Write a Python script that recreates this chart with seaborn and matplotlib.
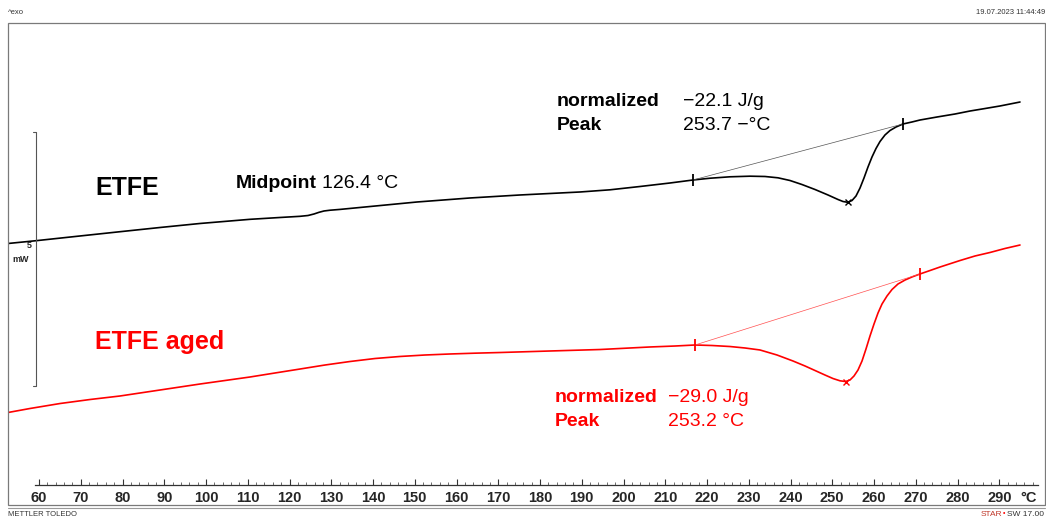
import matplotlib
matplotlib.use("Agg")
import matplotlib.pyplot as plt
from matplotlib.lines import Line2D
from matplotlib.patches import Rectangle
from matplotlib.ticker import FixedLocator
import pandas as pd
import seaborn as sns

# DSC heating curves, heat flow in mW (exo up), temperature in °C
etfe_temp = [52.57, 59.28, 69.82, 79.40, 88.98, 98.56, 110.54, 117.72, 122.51,
             124.43, 125.87, 127.07, 128.26, 129.70, 132.10, 139.28, 150.54,
             163.23, 175.21, 189.58, 196.77, 203.95, 211.14, 216.65, 220.72,
             225.51, 230.30, 233.89, 237.01, 239.88, 242.75, 245.87, 248.98,
             251.38, 252.57, 253.70, 254.73, 255.69, 256.65, 257.60, 258.56,
             259.52, 260.48, 261.44, 262.63, 263.83, 265.27, 266.92, 269.10,
             271.02, 275.09, 279.40, 283.00, 286.59, 290.18, 294.97]
etfe_flow = [4.065, 4.120, 4.213, 4.297, 4.380, 4.459, 4.541, 4.577, 4.600,
             4.616, 4.646, 4.679, 4.705, 4.720, 4.736, 4.793, 4.882,
             4.961, 5.020, 5.079, 5.122, 5.187, 5.256, 5.315, 5.350,
             5.378, 5.390, 5.384, 5.358, 5.305, 5.226, 5.128, 5.020,
             4.931, 4.892, 4.876, 4.911, 5.000, 5.157, 5.354, 5.571,
             5.768, 5.935, 6.073, 6.201, 6.289, 6.358, 6.417, 6.457,
             6.496, 6.555, 6.614, 6.673, 6.722, 6.772, 6.850]

aged_temp = [52.57, 57.84, 65.03, 72.22, 79.40, 88.98, 98.56, 104.55, 110.54,
             116.53, 122.51, 128.50, 134.49, 140.48, 146.47, 152.46, 158.44,
             164.43, 170.42, 182.40, 194.37, 206.35, 212.34, 217.13, 221.20,
             225.51, 229.10, 232.69, 236.77, 240.60, 243.47, 245.87, 248.26,
             250.18, 251.86, 253.20, 254.25, 255.21, 256.17, 257.13, 258.08,
             259.04, 260.00, 260.96, 261.92, 263.11, 264.31, 265.75, 267.43,
             269.10, 271.02, 273.41, 275.81, 280.60, 284.19, 287.78, 291.38,
             294.97]
aged_flow = [0.738, 0.817, 0.915, 0.994, 1.063, 1.181, 1.299, 1.368, 1.437,
             1.516, 1.594, 1.673, 1.742, 1.801, 1.841, 1.870, 1.890,
             1.906, 1.919, 1.949, 1.978, 2.028, 2.047, 2.067, 2.057,
             2.037, 2.008, 1.969, 1.870, 1.752, 1.654, 1.565, 1.476,
             1.407, 1.362, 1.348, 1.378, 1.457, 1.575, 1.752, 1.988,
             2.244, 2.480, 2.697, 2.874, 3.031, 3.159, 3.268, 3.346,
             3.406, 3.465, 3.533, 3.602, 3.730, 3.819, 3.888, 3.967,
             4.035]

# Integration limits of the melting peaks (temperature, heat flow)
etfe_limits_temp = [216.65, 266.92]
etfe_limits_flow = [5.315, 6.417]
aged_limits_temp = [217.13, 271.02]
aged_limits_flow = [2.067, 3.465]

# Evaluation results
etfe_peak_temp = 253.7
etfe_peak_flow = 4.876
aged_peak_temp = 253.2
aged_peak_flow = 1.348
etfe_enthalpy = "\u221222.1 J/g"
etfe_peak_text = "253.7 \u2212\u00b0C"
aged_enthalpy = "\u221229.0 J/g"
aged_peak_text = "253.2 \u00b0C"
midpoint_text = "126.4 \u00b0C"

tick_values = list(range(60, 300, 10))
minor_tick_values = [t for t in range(60, 300, 2) if t % 10 != 0]

W, H = 1046, 519
sns.set_theme(style="white")
plt.rcParams["font.family"] = ["Liberation Sans", "DejaVu Sans"]

fig = plt.figure(figsize=(W / 100, H / 100), dpi=100)
fig.patch.set_facecolor("white")


def fx(px):
    return px / W


def fy(py):
    return 1 - py / H


# plotting area in figure pixels
left_px, right_px, top_px, axis_px = 8, 1045, 23, 485
ax = fig.add_axes([fx(left_px), fy(axis_px), (right_px - left_px) / W,
                   (axis_px - top_px) / H])
ax.set_facecolor("none")

px_per_deg = 4.175
px_per_mw = 50.8


def temp_at(px):
    return 60 + (px - 39) / px_per_deg


ax.set_xlim(temp_at(left_px), temp_at(right_px))
ax.set_ylim((450 - axis_px) / px_per_mw, (450 - top_px) / px_per_mw)

etfe = pd.DataFrame({"T": etfe_temp, "HF": etfe_flow})
aged = pd.DataFrame({"T": aged_temp, "HF": aged_flow})

sns.lineplot(data=etfe, x="T", y="HF", sort=False, estimator=None,
             color="black", linewidth=1.2, ax=ax)
sns.lineplot(data=aged, x="T", y="HF", sort=False, estimator=None,
             color="#ff0000", linewidth=1.2, ax=ax)

# baselines between integration limits
ax.plot(etfe_limits_temp, etfe_limits_flow, color="#555555", linewidth=0.5)
ax.plot(aged_limits_temp, aged_limits_flow, color="#ff5050", linewidth=0.5)

ax.plot(etfe_limits_temp, etfe_limits_flow, linestyle="none", marker="|",
        markersize=8, markeredgewidth=1.3, color="black")
ax.plot(aged_limits_temp, aged_limits_flow, linestyle="none", marker="|",
        markersize=8, markeredgewidth=1.3, color="#ff0000")
ax.plot([etfe_peak_temp], [etfe_peak_flow], linestyle="none", marker="x",
        markersize=4, markeredgewidth=1.0, color="black")
ax.plot([aged_peak_temp], [aged_peak_flow], linestyle="none", marker="x",
        markersize=4, markeredgewidth=1.0, color="#ff0000")

# temperature axis
for s in ["top", "right", "left"]:
    ax.spines[s].set_visible(False)
ax.spines["bottom"].set_color("#333333")
ax.spines["bottom"].set_linewidth(0.9)
ax.spines["bottom"].set_bounds(temp_at(35), temp_at(1038))
ax.set_yticks([])
ax.xaxis.set_major_locator(FixedLocator(tick_values))
ax.xaxis.set_minor_locator(FixedLocator(minor_tick_values))
ax.tick_params(axis="x", which="both", bottom=True)
ax.tick_params(axis="x", which="major", direction="in", length=4, width=0.8,
               color="#333333", pad=4, labelsize=10.5)
ax.tick_params(axis="x", which="minor", direction="in", length=2, width=0.6,
               color="#555555")
for lbl in ax.get_xticklabels():
    lbl.set_fontweight("bold")
ax.set_xlabel("")
ax.set_ylabel("")
ax.grid(False)

fig.text(fx(1029), fy(498), "\u00b0C", ha="center", va="center",
         fontsize=10.5, fontweight="bold")

# outer frame
fig.add_artist(Rectangle((fx(8), fy(505)), (1045 - 8) / W, (505 - 23) / H,
                         transform=fig.transFigure, fill=False,
                         edgecolor="#7a7a7a", linewidth=0.9))
fig.add_artist(Line2D([fx(8), fx(1045)], [fy(507.5), fy(507.5)],
                      transform=fig.transFigure, color="#9a9a9a",
                      linewidth=0.8))

# 5 mW scale bar
fig.add_artist(Line2D([fx(33), fx(36), fx(36), fx(33)],
                      [fy(132), fy(132), fy(386), fy(386)],
                      transform=fig.transFigure, color="#555555",
                      linewidth=0.8))
fig.text(fx(29), fy(246), "5", ha="center", va="center", fontsize=6.5,
         fontweight="bold")
fig.text(fx(21), fy(259), "mW", ha="center", va="center", fontsize=6.5,
         fontweight="bold")

# header and footer
fig.text(fx(8), fy(12), "^exo", ha="left", va="center", fontsize=5.5,
         color="#333333")
fig.text(fx(1045), fy(12), "19.07.2023 11:44:49", ha="right", va="center",
         fontsize=5.5, color="#333333")
fig.text(fx(8), fy(514), "METTLER TOLEDO", ha="left", va="center",
         fontsize=5.5, color="#333333")
fig.text(fx(1044), fy(514), "SW 17.00", ha="right", va="center",
         fontsize=6, color="#333333")
fig.text(fx(1002), fy(514), "STAR", ha="right", va="center",
         fontsize=6, color="#c0392b")
fig.text(fx(1002.5), fy(513.5), "\u2022", ha="left", va="center",
         fontsize=5, color="#ff0000")

# curve names
fig.text(fx(95), fy(188), "ETFE", ha="left", va="center", fontsize=18,
         fontweight="bold", color="black")
fig.text(fx(95), fy(342), "ETFE aged", ha="left", va="center", fontsize=18,
         fontweight="bold", color="#ff0000")

# evaluation labels
fig.text(fx(236), fy(183), "Midpoint", ha="left", va="center", fontsize=14,
         fontweight="bold", color="black")
fig.text(fx(322), fy(183), midpoint_text, ha="left", va="center", fontsize=14,
         color="black")

fig.text(fx(557), fy(101), "normalized", ha="left", va="center", fontsize=14,
         fontweight="bold", color="black")
fig.text(fx(683), fy(101), etfe_enthalpy, ha="left", va="center",
         fontsize=14, color="black")
fig.text(fx(557), fy(125), "Peak", ha="left", va="center", fontsize=14,
         fontweight="bold", color="black")
fig.text(fx(683), fy(125), etfe_peak_text, ha="left", va="center",
         fontsize=14, color="black")

fig.text(fx(555), fy(398), "normalized", ha="left", va="center", fontsize=14,
         fontweight="bold", color="#ff0000")
fig.text(fx(668), fy(398), aged_enthalpy, ha="left", va="center",
         fontsize=14, color="#ff0000")
fig.text(fx(555), fy(422), "Peak", ha="left", va="center", fontsize=14,
         fontweight="bold", color="#ff0000")
fig.text(fx(668), fy(422), aged_peak_text, ha="left", va="center",
         fontsize=14, color="#ff0000")

fig.savefig("out.png", dpi=100, facecolor="white")
